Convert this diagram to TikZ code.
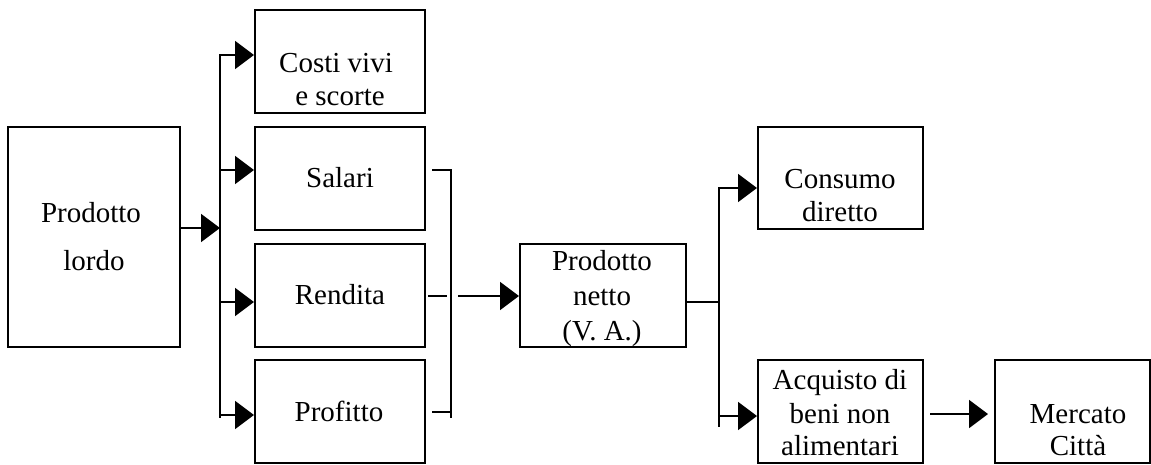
\documentclass[tikz,border=0pt]{standalone}
\usepackage{fontspec}
\setmainfont{Liberation Serif}
\usetikzlibrary{arrows.meta}
\begin{document}
\begin{tikzpicture}[x=1pt,y=-1pt,
  box/.style={draw,line width=2pt,minimum width=170pt,minimum height=103pt,inner sep=0pt},
  txt/.style={anchor=base,font=\fontsize{29pt}{33pt}\selectfont,inner sep=0pt},
  conn/.style={line width=2pt},
  arr/.style={line width=2pt,-{Triangle[length=19pt,width=28pt]}}]
\useasboundingbox (0,0) rectangle (1151,464);
% boxes
\node[box,minimum width=172pt,minimum height=220pt] (lordo) at (94,237) {};
\node[box] (costi) at (340,61.5) {};
\node[box] (salari) at (340,178.5) {};
\node[box] (rendita) at (340,295) {};
\node[box] (profitto) at (340,411) {};
\node[box,minimum width=166pt] (netto) at (603,295.5) {};
\node[box,minimum width=165pt,minimum height=102pt] (consumo) at (840.5,178) {};
\node[box,minimum width=165pt] (acquisto) at (840.5,411.5) {};
\node[box,minimum width=155pt] (mercato) at (1072.5,411.5) {};
% texts
\node[txt] (tl1) at (91,222) {Prodotto};
\node[txt] (tl2) at (94,270) {lordo};
\node[txt] (tc1) at (336,72) {Costi vivi};
\node[txt] (tc2) at (340,105) {e scorte};
\node[txt] (ts) at (340,187) {Salari};
\node[txt] (tr) at (340,304) {Rendita};
\node[txt] (tp) at (339,421) {Profitto};
\node[txt] (tn1) at (602,270) {Prodotto};
\node[txt] (tn2) at (602,305) {netto};
\node[txt] (tn3) at (602,340) {(V. A.)};
\node[txt] (tco1) at (840,188) {Consumo};
\node[txt] (tco2) at (840,221) {diretto};
\node[txt] (ta1) at (840,389) {Acquisto di};
\node[txt] (ta2) at (840,423) {beni non};
\node[txt] (ta3) at (840,455) {alimentari};
\node[txt] (tm1) at (1078,423) {Mercato};
\node[txt] (tm2) at (1078,455) {Città};
% first bus
\coordinate (busA) at (220,228);
\coordinate (b1) at (220,55);
\coordinate (b2) at (220,170);
\coordinate (b3) at (220,302);
\coordinate (b4) at (220,415);
\draw[conn] (220,54) -- (220,418);
\draw[arr] (lordo.east |- busA) -- (busA);
\draw[arr] (b1) -- (costi.west |- b1);
\draw[arr] (b2) -- (salari.west |- b2);
\draw[arr] (b3) -- (rendita.west |- b3);
\draw[arr] (b4) -- (profitto.west |- b4);
% collector
\coordinate (s1) at (432,170);
\coordinate (s3) at (432,412);
\coordinate (r1) at (428,296);
\coordinate (r2) at (447,296);
\coordinate (n0) at (458,296);
\draw[conn] (s1) -- (451,170) -- (451,418);
\draw[conn] (s3) -- (451,412);
\draw[conn] (r1) -- (r2);
\draw[arr] (n0) -- (netto.west |- n0);
% second bus
\coordinate (busB) at (719,302);
\coordinate (c1) at (719,188);
\coordinate (c2) at (719,416);
\draw[conn] (netto.east |- busB) -- (busB);
\draw[conn] (719,187) -- (719,427);
\draw[arr] (c1) -- (consumo.west |- c1);
\draw[arr] (c2) -- (acquisto.west |- c2);
% to market
\coordinate (m0) at (930,414);
\coordinate (m1) at (988,414);
\draw[arr] (m0) -- (m1);
\end{tikzpicture}
\end{document}
